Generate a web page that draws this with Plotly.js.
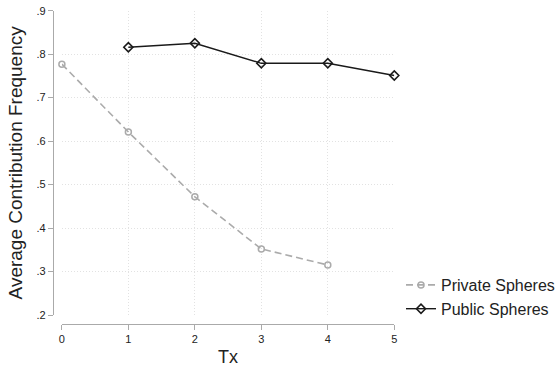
<!DOCTYPE html>
<html>
<head>
<meta charset="utf-8">
<script src="https://cdn.plot.ly/plotly-3.0.1.min.js"></script>
<style>html,body{margin:0;padding:0;background:#fff;}#chart{width:560px;height:372px;}</style>
</head>
<body>
<div id="chart"></div>
<script>
const privateX = [0, 1, 2, 3, 4];
const privateY = [0.777, 0.621, 0.472, 0.352, 0.315];
const publicX = [1, 2, 3, 4, 5];
const publicY = [0.816, 0.825, 0.779, 0.779, 0.751];
const xTickVals = [0, 1, 2, 3, 4, 5];
const xTickText = ['0', '1', '2', '3', '4', '5'];
const yTickVals = [0.2, 0.3, 0.4, 0.5, 0.6, 0.7, 0.8, 0.9];
const yTickText = ['.2', '.3', '.4', '.5', '.6', '.7', '.8', '.9'];
const seriesNames = ['Private Spheres', 'Public Spheres'];

const W = 560, H = 372;
const traces = [
  {
    x: privateX, y: privateY, name: seriesNames[0], type: 'scatter', mode: 'lines+markers', cliponaxis: false,
    line: {color: '#ababab', width: 1.6, dash: '7px,4px'},
    marker: {symbol: 'circle-open', size: 6, color: '#ababab', line: {width: 1.5, color: '#ababab'}}
  },
  {
    x: publicX, y: publicY, name: seriesNames[1], type: 'scatter', mode: 'lines+markers', cliponaxis: false,
    line: {color: '#1a1a1a', width: 1.4},
    marker: {symbol: 'diamond-open', size: 7, color: '#1a1a1a', line: {width: 1.6, color: '#1a1a1a'}}
  }
];

const layout = {
  width: W, height: H,
  margin: {l: 0, r: 0, t: 0, b: 0, pad: 0},
  paper_bgcolor: '#ffffff', plot_bgcolor: '#ffffff',
  font: {family: 'Liberation Sans, Arial, sans-serif', color: '#222'},
  showlegend: true,
  legend: {
    x: 402 / W, y: (H - 268) / H, xanchor: 'left', yanchor: 'top',
    font: {size: 16, color: '#222'}, tracegroupgap: 0, itemwidth: 30,
    bgcolor: 'rgba(0,0,0,0)'
  },
  xaxis: {
    domain: [62 / W, 395 / W], range: [0, 5], anchor: 'free', position: (H - 324) / H,
    tickvals: xTickVals, ticktext: xTickText, tickfont: {size: 11, color: '#222'},
    ticks: 'outside', ticklen: 5, tickcolor: '#aaaaaa', tickwidth: 1,
    showline: true, linecolor: '#aaaaaa', linewidth: 1.2,
    showgrid: true, gridcolor: '#e2e2e2', griddash: '1px,2px', gridwidth: 1,
    zeroline: false, automargin: false,
    title: {text: 'Tx', font: {size: 18, color: '#222'}, standoff: 6}
  },
  yaxis: {
    domain: [(H - 315) / H, (H - 10.7) / H], range: [0.2, 0.9], anchor: 'free', position: 53 / W,
    tickvals: yTickVals, ticktext: yTickText, tickfont: {size: 11, color: '#222'},
    ticks: 'outside', ticklen: 5, tickcolor: '#aaaaaa', tickwidth: 1,
    showline: true, linecolor: '#aaaaaa', linewidth: 1.2,
    showgrid: true, gridcolor: '#e2e2e2', griddash: '1px,2px', gridwidth: 1,
    zeroline: false, automargin: false,
    title: {text: 'Average Contribution Frequency', font: {size: 19, color: '#222'}, standoff: 7}
  }
};

Plotly.newPlot('chart', traces, layout, {displayModeBar: false, staticPlot: true});
</script>
</body>
</html>
